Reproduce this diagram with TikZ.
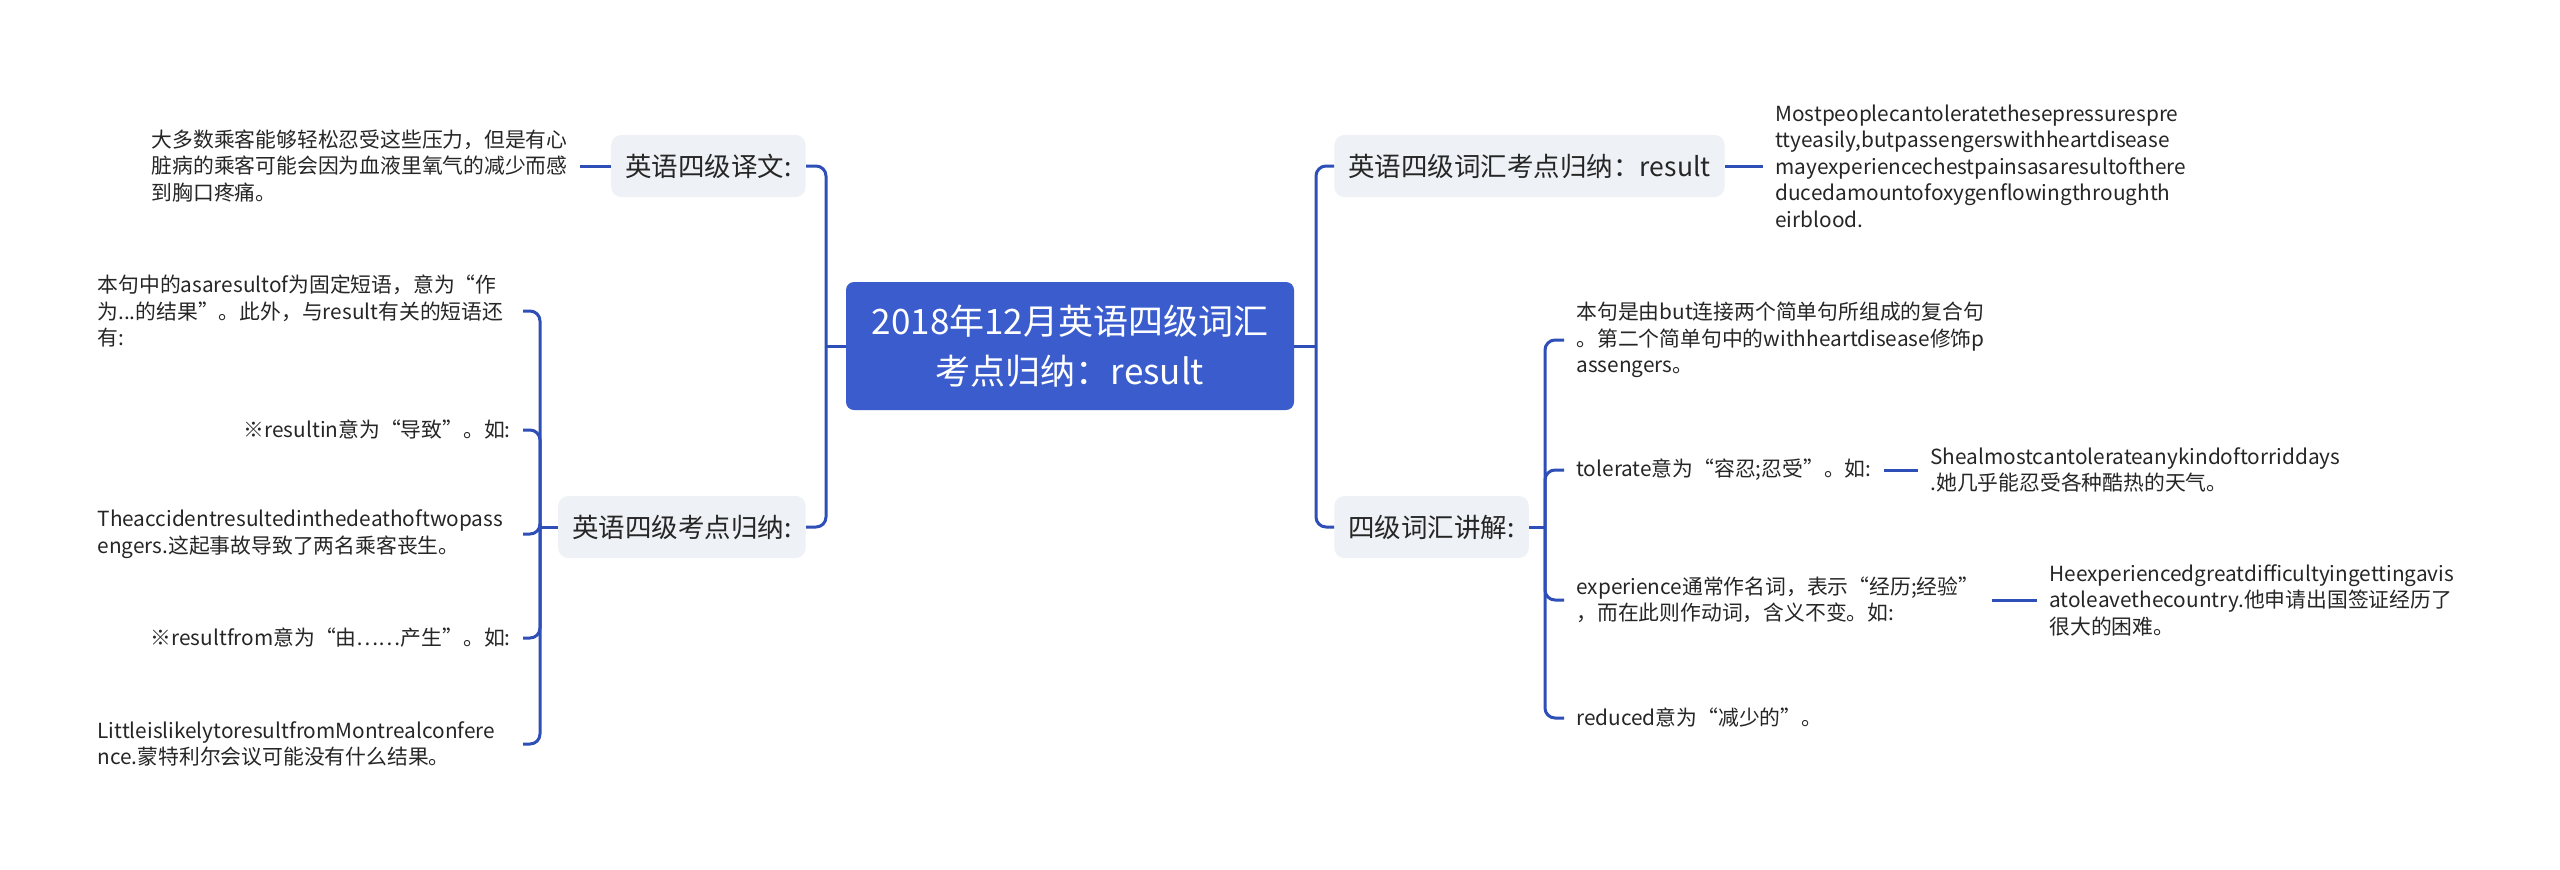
\documentclass[tikz,border=0pt]{standalone}
\usepackage{fontspec}
\newfontfamily\cjk{Noto Sans CJK SC}
\definecolor{mainc}{HTML}{3A5CCC}
\definecolor{linec}{HTML}{2E4FB8}
\definecolor{topicc}{HTML}{EEF1F5}
\definecolor{textc}{HTML}{262626}
\begin{document}
\begin{tikzpicture}[x=0.5pt,y=-0.5pt,
  conn/.style={draw=linec,line width=1.5pt,rounded corners=5pt},
  central/.style={fill=mainc,rounded corners=4pt,text=white,align=center,
    font=\cjk\fontsize{17.5pt}{25pt}\selectfont,minimum width=224pt,minimum height=64pt,inner sep=0pt},
  topic/.style={fill=topicc,rounded corners=5pt,text=textc,
    font=\cjk\fontsize{13.25pt}{16pt}\selectfont,minimum height=31pt,inner xsep=7pt,inner ysep=0pt},
  leaf/.style={text=textc,align=left,font=\cjk\fontsize{10.4pt}{13.25pt}\selectfont,inner xsep=6pt,inner ysep=2pt},
  wide/.style={text width=206.5pt},
]
\fill[white] (0,0) rectangle (2560,869);
\useasboundingbox (0,0) rectangle (2560,869);

% central
\node[central] (C) at (1070,346) {2018年12月英语四级词汇\\考点归纳：result};

% topics
\node[topic,anchor=east] (L1) at (806,166) {英语四级译文:};
\node[topic,anchor=east] (L2) at (806,527) {英语四级考点归纳:};
\node[topic,anchor=west] (R1) at (1334,166) {英语四级词汇考点归纳：result};
\node[topic,anchor=west] (R2) at (1334,527) {四级词汇讲解:};

% left leaves
\node[leaf,anchor=east] (t1) at (580,166) {大多数乘客能够轻松忍受这些压力，但是有心\\脏病的乘客可能会因为血液里氧气的减少而感\\到胸口疼痛。};
\node[leaf,wide,anchor=east] (a1) at (523,311) {本句中的asaresultof为固定短语，意为“作\\为...的结果”。此外，与result有关的短语还\\有:};
\node[leaf,wide,align=right,anchor=east] (a2) at (523,430) {※resultin意为“导致”。如:};
\node[leaf,wide,anchor=east] (a3) at (523,534) {Theaccidentresultedinthedeathoftwopass\\engers.这起事故导致了两名乘客丧生。};
\node[leaf,wide,align=right,anchor=east] (a4) at (523,638) {※resultfrom意为“由……产生”。如:};
\node[leaf,wide,anchor=east] (a5) at (523,744) {LittleislikelytoresultfromMontrealconfere\\nce.蒙特利尔会议可能没有什么结果。};

% right leaves
\node[leaf,anchor=west] (r1) at (1763,166) {Mostpeoplecantoleratethesepressurespre\\ttyeasily,butpassengerswithheartdisease\\mayexperiencechestpainsasaresultofthere\\ducedamountofoxygenflowingthroughth\\eirblood.};
\node[leaf,anchor=west] (b1) at (1564,340) {本句是由but连接两个简单句所组成的复合句\\。第二个简单句中的withheartdisease修饰p\\assengers。};
\node[leaf,anchor=west] (b2) at (1564,470) {tolerate意为“容忍;忍受”。如:};
\node[leaf,anchor=west] (b2a) at (1918,470) {Shealmostcantolerateanykindoftorriddays\\.她几乎能忍受各种酷热的天气。};
\node[leaf,anchor=west] (b3) at (1564,600) {experience通常作名词，表示“经历;经验”\\，而在此则作动词，含义不变。如:};
\node[leaf,anchor=west] (b3a) at (2037,600) {Heexperiencedgreatdifficultyingettingavis\\atoleavethecountry.他申请出国签证经历了\\很大的困难。};
\node[leaf,anchor=west] (b4) at (1564,718) {reduced意为“减少的”。};

% trunks
\coordinate (LT) at (826,346);
\coordinate (RT) at (1316,346);
\coordinate (LT2) at (540,527);
\coordinate (RT2) at (1545,527);

\draw[conn] (C.west) -- (LT);
\draw[conn] (LT) |- (L1.east);
\draw[conn] (LT) |- (L2.east);
\draw[conn] (C.east) -- (RT);
\draw[conn] (RT) |- (R1.west);
\draw[conn] (RT) |- (R2.west);

\draw[conn] (L2.west) -- (LT2);
\foreach \n in {a1,a2,a3,a4,a5} \draw[conn] (LT2) |- (\n.east);
\draw[conn] (R2.east) -- (RT2);
\foreach \n in {b1,b2,b3,b4} \draw[conn] (RT2) |- (\n.west);

\draw[conn] (t1.east) -- (L1.west);
\draw[conn] (R1.east) -- (r1.west);
\draw[conn] (b2.east) -- (b2a.west);
\draw[conn] (b3.east) -- (b3a.west);
\end{tikzpicture}
\end{document}
